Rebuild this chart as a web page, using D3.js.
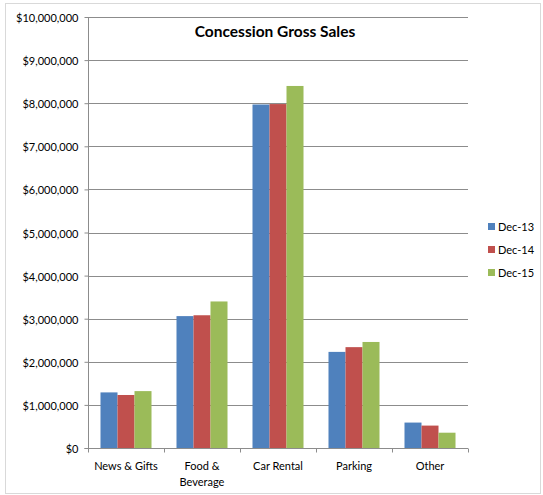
<!DOCTYPE html>
<html><head><meta charset="utf-8">
<script src="https://cdn.jsdelivr.net/npm/d3@7"></script>
<style>body{margin:0;background:#fff}svg{display:block}text{font-family:Lato,"Open Sans",sans-serif}</style>
</head><body><div id="chart"></div>
<script>
const categories = ["News & Gifts", "Food & Beverage", "Car Rental", "Parking", "Other"];
const categoryLines = [["News & Gifts"], ["Food &", "Beverage"], ["Car Rental"], ["Parking"], ["Other"]];
const seriesNames = ["Dec-13", "Dec-14", "Dec-15"];
const dec13 = [1290000, 3060000, 7970000, 2230000, 590000];
const dec14 = [1230000, 3080000, 7980000, 2340000, 520000];
const dec15 = [1320000, 3400000, 8400000, 2460000, 355000];
const yTicks = [0,1000000,2000000,3000000,4000000,5000000,6000000,7000000,8000000,9000000,10000000];
const colors = ["#4f81bd", "#c0504d", "#9bbb59"];
const title = "Concession Gross Sales";

const W = 543, H = 495;
const svg = d3.select("#chart").append("svg").attr("width", W).attr("height", H);
svg.append("rect").attr("x", 5.5).attr("y", 3.5).attr("width", 535).attr("height", 490)
  .attr("fill", "#fff").attr("stroke", "#d9d9d9");

const m = {left: 88, right: 468, top: 17, bottom: 448};
const x = d3.scaleBand().domain(categories).range([m.left, m.right]).paddingInner(0).paddingOuter(0);
const y = d3.scaleLinear().domain([0, 10000000]).range([m.bottom, m.top]);
const inner = d3.scaleBand().domain(seriesNames).range([0, x.bandwidth()]).paddingInner(0).paddingOuter(0.735);

// gridlines
svg.append("g").selectAll("line").data(yTicks.filter(d => d > 0)).join("line")
  .attr("x1", m.left).attr("x2", m.right)
  .attr("y1", d => Math.round(y(d)) + 0.5).attr("y2", d => Math.round(y(d)) + 0.5)
  .attr("stroke", "#8c8c8c").attr("stroke-width", 1);

// bars
const series = [dec13, dec14, dec15];
series.forEach((vals, si) => {
  svg.append("g").selectAll("rect").data(vals).join("rect")
    .attr("x", (d, i) => x(categories[i]) + inner(seriesNames[si]))
    .attr("width", inner.bandwidth())
    .attr("y", d => y(d))
    .attr("height", d => y(0) - y(d))
    .attr("fill", colors[si]);
});

// y axis
const yAxis = d3.axisLeft(y).tickValues(yTicks).tickSize(4).tickPadding(6)
  .tickFormat(d => "$" + d3.format(",")(d));
const gy = svg.append("g").attr("transform", `translate(${m.left + 0.5},0)`).call(yAxis);
gy.selectAll("line,path").attr("stroke", "#8c8c8c");
gy.select(".domain").attr("d", `M-4,${m.bottom + 0.5}H0V${m.top}`);
gy.selectAll("text").attr("font-size", 11).attr("fill", "#000").attr("dy", "0.35em")
  .attr("y", 0).attr("transform", d => `translate(0,${Math.round(y(d)) + 0.5 - y(d)})`);

// x axis
const xAxis = d3.axisBottom(x).tickSize(4).tickFormat("");
const gx = svg.append("g").attr("transform", `translate(0,${m.bottom + 0.5})`).call(xAxis);
gx.selectAll(".tick").remove();
gx.select(".domain").attr("stroke", "#8c8c8c").attr("d", `M${m.left},0H${m.right}`);
const bounds = categories.map(c => x(c)).concat([m.right]);
gx.selectAll("line.b").data(bounds).join("line").attr("class", "b")
  .attr("x1", d => Math.round(d) + 0.5).attr("x2", d => Math.round(d) + 0.5)
  .attr("y1", 0).attr("y2", 4).attr("stroke", "#8c8c8c");
categories.forEach((c, i) => {
  const t = svg.append("text").attr("x", x(c) + x.bandwidth() / 2).attr("y", 470)
    .attr("text-anchor", "middle").attr("font-size", 11).attr("fill", "#000");
  categoryLines[i].forEach((line, li) => {
    t.append("tspan").attr("x", x(c) + x.bandwidth() / 2).attr("dy", li === 0 ? 0 : 15.5).text(line);
  });
});

// title
svg.append("text").attr("x", 275).attr("y", 37).attr("text-anchor", "middle")
  .attr("font-size", 15.5).attr("font-weight", "bold").attr("fill", "#000").text(title);

// legend
const lg = svg.append("g");
seriesNames.forEach((s, i) => {
  lg.append("rect").attr("x", 488).attr("y", 223 + i * 23).attr("width", 7).attr("height", 7).attr("fill", colors[i]);
  lg.append("text").attr("x", 498).attr("y", 227 + i * 23).attr("dy", "0.35em")
    .attr("font-size", 11).attr("fill", "#000").text(s);
});
</script></body></html>
